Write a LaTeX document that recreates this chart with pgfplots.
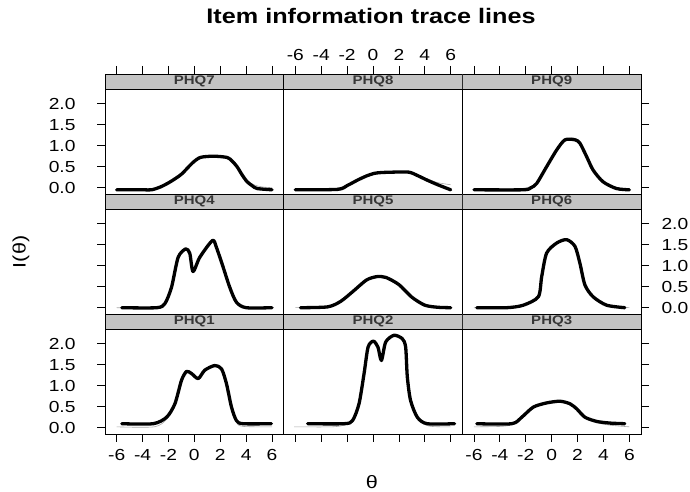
\documentclass[border=0pt]{standalone}
\usepackage{pgfplots}
\pgfplotsset{compat=1.18}
\usepackage{fontspec}
\setmainfont{Liberation Sans}
\newfontfamily\lib[FakeStretch=1.2]{Liberation Sans}
\definecolor{stripgray}{RGB}{196,196,196}
\definecolor{stripfg}{RGB}{55,55,55}
\pgfplotsset{
  panel/.style={scale only axis, width=178.67pt, height=120pt,
    xmin=-6.9, xmax=6.9, ymin=-0.15, ymax=2.707,
    tick align=outside, major tick length=8pt,
    axis line style={line width=0.8pt},
    tick style={line width=0.8pt, black},
    tick label style={font=\lib\fontsize{16}{18}\selectfont},
    xtick={-6,-4,-2,0,2,4,6}, ytick={0,0.5,1,1.5,2},
    xticklabels={}, yticklabels={},
    /pgf/number format/assume math mode=true},
  main/.style={black, line width=3.3pt, smooth, tension=0.45, line join=round, line cap=round},
  aux/.style={gray!70, line width=0.6pt, smooth, tension=0.45},
  xlab/.style={xticklabels={-6,-4,-2,0,2,4,6}},
  ylab/.style={yticklabels={0.0,0.5,1.0,1.5,2.0}},
}
\newcommand{\strip}[1]{%
  \draw[fill=stripgray, line width=0.8pt] (rel axis cs:0,0.875) rectangle (rel axis cs:1,1);
  \node[font=\lib\bfseries\fontsize{12.5}{14}\selectfont, text=stripfg] at (rel axis cs:0.5,0.9375) {#1};}
\begin{document}
\begin{tikzpicture}
\useasboundingbox (0,0) rectangle (690pt,492pt);
\node[anchor=base, font=\lib\bfseries\fontsize{21}{24}\selectfont] at (371pt,468.7pt) {Item information trace lines};
\node[rotate=90, font=\lib\fontsize{18}{20}\selectfont] at (21pt,240pt) {I(θ)};
\node[font=\lib\fontsize{18}{20}\selectfont] at (372pt,10pt) {θ};
% ---------- row 1 ----------
\begin{axis}[panel, at={(105pt,298pt)}, anchor=south west,
  xtick pos=top, ytick pos=left, ylab, yticklabel style={xshift=-18pt}]
\strip{PHQ7}
\addplot[aux] coordinates {(-6,-0.03) (-3.3,-0.03) (-2.6,0.04) (-1.86,0.15) (-1,0.33) (-0.18,0.6) (0.46,0.73) (1.5,0.76) (2.53,0.72) (2.9,0.65) (3.3,0.52) (3.7,0.33) (4.08,0.18) (4.6,0.07) (5.2,0.02) (6,0.0)};
\addplot[main] coordinates {(-6,-0.05) (-4,-0.05) (-3.3,-0.05) (-2.6,0.02) (-1.86,0.14) (-1,0.32) (-0.18,0.58) (0.46,0.72) (1.5,0.75) (2.53,0.72) (2.9,0.64) (3.3,0.5) (3.7,0.3) (4.08,0.14) (4.5,0.04) (4.85,-0.02) (6,-0.05)};
\end{axis}
\begin{axis}[panel, at={(283.67pt,298pt)}, anchor=south west,
  xtick pos=top, xticklabel pos=top, ytick=\empty, xlab, xticklabel style={yshift=2pt}]
\strip{PHQ8}
\addplot[aux] coordinates {(-6,-0.03) (-3,-0.02) (-2,0.07) (-1.2,0.2) (-0.5,0.3) (0.08,0.36) (0.6,0.38) (1.5,0.38) (2.8,0.38) (3.5,0.3) (4.2,0.21) (5,0.12) (6,0.07)};
\addplot[main] coordinates {(-6,-0.05) (-2.74,-0.04) (-2,0.05) (-1.2,0.18) (-0.5,0.28) (0.08,0.34) (0.6,0.36) (1.5,0.37) (2.77,0.37) (3.5,0.28) (4.18,0.18) (5,0.07) (6,-0.05)};
\end{axis}
\begin{axis}[panel, at={(462.33pt,298pt)}, anchor=south west,
  xtick pos=top, ytick pos=right]
\strip{PHQ9}
\addplot[aux] coordinates {(-6,-0.02) (-2.5,-0.02) (-1.6,0.03) (-1.16,0.12) (-0.39,0.52) (0.39,0.92) (1.03,1.15) (1.8,1.18) (2.18,1.08) (2.7,0.76) (3.2,0.44) (3.97,0.16) (5,0.01) (6,-0.03)};
\addplot[main] coordinates {(-6,-0.05) (-2.19,-0.05) (-1.6,0.0) (-1.16,0.1) (-0.39,0.5) (0.39,0.9) (1.03,1.14) (1.8,1.14) (2.18,1.06) (2.7,0.74) (3.2,0.42) (3.97,0.14) (5.0,-0.02) (6,-0.05)};
\end{axis}
% ---------- row 2 ----------
\begin{axis}[panel, at={(105pt,178pt)}, anchor=south west,
  xtick=\empty, ytick pos=left]
\strip{PHQ4}
\addplot[aux] coordinates {(-6,0.0) (-2.9,0.0) (-2.27,0.12) (-1.76,0.5) (-1.25,1.2) (-0.66,1.4) (-0.35,1.3) (-0.1,0.9) (0.42,1.2) (1.4,1.6) (1.7,1.45) (2.22,0.98) (2.73,0.5) (3.25,0.14) (4,0.0) (6,0.0)};
\addplot[main] coordinates {(-5.6,0) (-2.9,0) (-2.27,0.1) (-1.76,0.49) (-1.25,1.2) (-0.66,1.4) (-0.35,1.29) (-0.1,0.86) (0.42,1.2) (1.4,1.6) (1.7,1.44) (2.22,0.97) (2.73,0.49) (3.25,0.13) (4.0,0) (6,0)};
\end{axis}
\begin{axis}[panel, at={(283.67pt,178pt)}, anchor=south west,
  xtick=\empty, ytick=\empty]
\strip{PHQ5}
\addplot[aux] coordinates {(-6,0.0) (-3.5,0.03) (-2.5,0.16) (-1.5,0.41) (-0.5,0.67) (0.3,0.75) (1,0.73) (2,0.56) (3,0.26) (4,0.07) (5,0.02) (6,0.0)};
\addplot[main] coordinates {(-5.6,0) (-3.5,0.02) (-2.5,0.15) (-1.5,0.4) (-0.5,0.66) (0.3,0.74) (1,0.72) (2,0.55) (3,0.25) (4,0.06) (5,0.01) (6,0)};
\end{axis}
\begin{axis}[panel, at={(462.33pt,178pt)}, anchor=south west,
  xtick=\empty, ytick pos=right, yticklabel pos=right, ylab, yticklabel style={xshift=9pt}]
\strip{PHQ6}
\addplot[aux] coordinates {(-6,0.0) (-3.47,0.0) (-2.19,0.07) (-1.03,0.28) (-0.77,0.76) (-0.39,1.32) (0.39,1.56) (1.16,1.64) (1.8,1.48) (2.18,1.08) (2.57,0.56) (3.2,0.27) (4.24,0.07) (6,0.0)};
\addplot[main] coordinates {(-5.78,0) (-3.47,0) (-2.19,0.06) (-1.03,0.26) (-0.77,0.74) (-0.39,1.3) (0.39,1.54) (1.16,1.62) (1.8,1.46) (2.18,1.06) (2.57,0.54) (3.2,0.26) (4.24,0.06) (5.65,0)};
\end{axis}
% ---------- row 3 ----------
\begin{axis}[panel, at={(105pt,58pt)}, anchor=south west,
  xtick pos=bottom, ytick pos=left, xlab, ylab, yticklabel style={xshift=-18pt}, xticklabel style={yshift=-4pt}]
\strip{PHQ1}
\addplot[aux] coordinates {(-6,0.02) (-3.1,0.02) (-2.14,0.2) (-1.5,0.55) (-0.99,1.12) (-0.6,1.33) (-0.22,1.28) (0.3,1.18) (0.81,1.38) (1.58,1.5) (2.1,1.42) (2.48,1.07) (2.87,0.5) (3.25,0.12) (3.8,0.03) (6,0.02)};
\addplot[main] coordinates {(-5.6,0.095) (-3.18,0.095) (-2.14,0.25) (-1.5,0.57) (-0.99,1.13) (-0.6,1.34) (-0.22,1.29) (0.3,1.17) (0.81,1.37) (1.58,1.48) (2.1,1.4) (2.48,1.05) (2.87,0.49) (3.25,0.17) (3.76,0.095) (5.95,0.095)};
\end{axis}
\begin{axis}[panel, at={(283.67pt,58pt)}, anchor=south west,
  xtick pos=bottom, ytick=\empty]
\strip{PHQ2}
\addplot[aux] coordinates {(-6.1,0.02) (-3.2,0.02) (-2.23,0.06) (-1.58,0.15) (-1.08,0.55) (-0.69,1.27) (-0.38,1.9) (0.03,2.04) (0.38,1.9) (0.65,1.58) (0.98,2.02) (1.62,2.18) (2.26,2.1) (2.52,1.9) (2.65,1.2) (2.9,0.64) (3.42,0.22) (4.3,0.04) (6,0.02)};
\addplot[main] coordinates {(-5.05,0.095) (-2.23,0.095) (-1.58,0.17) (-1.08,0.57) (-0.69,1.29) (-0.38,1.92) (0.03,2.06) (0.38,1.92) (0.65,1.6) (0.98,2.04) (1.62,2.2) (2.26,2.12) (2.52,1.92) (2.65,1.21) (2.9,0.65) (3.42,0.25) (4.18,0.095) (6.3,0.095)};
\end{axis}
\begin{axis}[panel, at={(462.33pt,58pt)}, anchor=south west,
  xtick pos=bottom, ytick pos=right, xlab, xticklabel style={yshift=-4pt}]
\strip{PHQ3}
\addplot[aux] coordinates {(-6,0.02) (-4,0.03) (-3.08,0.07) (-2.31,0.23) (-1.42,0.48) (-0.39,0.58) (0.64,0.62) (1.41,0.56) (1.93,0.44) (2.57,0.24) (3.47,0.12) (4.5,0.06) (6,0.02)};
\addplot[main] coordinates {(-5.78,0.095) (-3.08,0.095) (-2.31,0.25) (-1.42,0.49) (-0.39,0.59) (0.64,0.63) (1.41,0.57) (1.93,0.45) (2.57,0.25) (3.47,0.15) (4.5,0.11) (5.65,0.095)};
\end{axis}
\end{tikzpicture}
\end{document}
